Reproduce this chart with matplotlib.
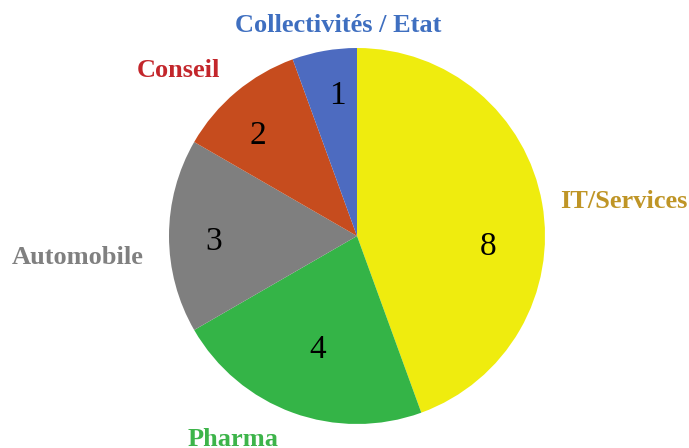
import matplotlib.pyplot as plt

# pie data, clockwise from the top
sectors = ["IT/Services", "Pharma", "Automobile", "Conseil", "Collectivités / Etat"]
counts = [8, 4, 3, 2, 1]
colors = ["#EFEC0E", "#34B447", "#7F7F7F", "#C64C1E", "#4D6BC0"]
label_colors = ["#BF9526", "#3DB44A", "#808080", "#C3262B", "#3F6FC0"]

W, H = 689, 448
cx, cy, R = 357, 236, 188  # pie centre and radius in pixels


def px(x, y):
    # pixel position (from top-left) -> data coords where the pie radius is 1
    return (x - cx) / R, (cy - y) / R


plt.rcParams['font.family'] = ['Liberation Serif', 'DejaVu Serif']
fig = plt.figure(figsize=(W / 100, H / 100), dpi=100)
ax = fig.add_axes([0, 0, 1, 1])
ax.pie(counts, colors=colors, startangle=90, counterclock=False, radius=1,
       wedgeprops=dict(linewidth=0))
ax.set_xlim(-cx / R, (W - cx) / R)
ax.set_ylim(-(H - cy) / R, cy / R)
ax.set_aspect('equal')
ax.axis('off')

# number inside each wedge
num_pos = [(488, 247), (318, 350), (214, 242), (258, 136), (337, 96)]
for n, (x, y) in zip(counts, num_pos):
    ax.text(*px(x, y), str(n), fontsize=24, ha='center', va='center', color='black')

# sector names outside the pie
name_pos = [(624, 201), (233, 439), (78, 257), (178, 70), (338, 25)]
for name, c, (x, y) in zip(sectors, label_colors, name_pos):
    ax.text(*px(x, y), name, fontsize=19, fontweight='bold', color=c,
            ha='center', va='center')

fig.savefig("out.png", dpi=100)
